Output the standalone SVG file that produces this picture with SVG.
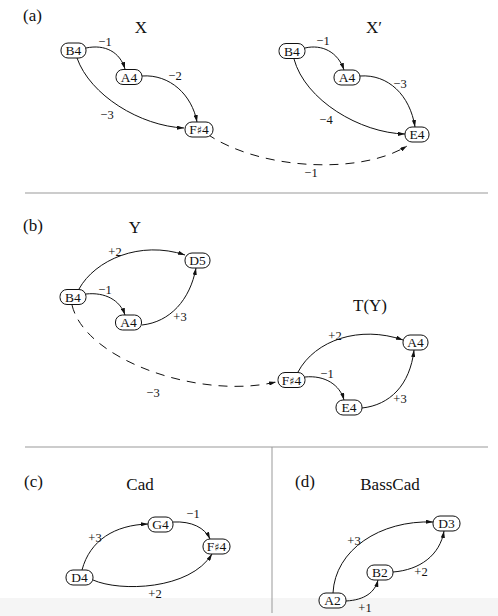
<svg xmlns="http://www.w3.org/2000/svg" width="498" height="616" viewBox="0 0 498 616">
<defs>
<marker id="ah" viewBox="0 0 10 6" refX="10" refY="3" markerWidth="7" markerHeight="4.2" orient="auto" markerUnits="userSpaceOnUse">
<path d="M0,0 L10,3 L0,6 Z" fill="#111"/>
</marker>
<style>
.n rect{fill:#fff;stroke:#111;stroke-width:1}
.n text{font-family:"Liberation Serif",serif;font-size:13.5px;text-anchor:middle;fill:#111}
.s{font-family:"DejaVu Serif","DejaVu Sans",serif;font-size:11px}
.e{fill:none;stroke:#111;stroke-width:1;marker-end:url(#ah)}
.d{stroke-dasharray:9,7}
.l{font-family:"Liberation Serif",serif;font-size:12.5px;text-anchor:middle;fill:#111}
.t{font-family:"Liberation Serif",serif;font-size:17px;text-anchor:middle;fill:#111}
.p{font-family:"Liberation Serif",serif;font-size:17px;fill:#111}
.sep{stroke:#999;stroke-width:1}
</style>
</defs>
<rect x="0" y="0" width="498" height="616" fill="#fff"/>
<rect x="0" y="598" width="498" height="18" fill="#f5f5f5"/>
<g id="separators">
<line class="sep" x1="25" y1="193" x2="488" y2="193"/>
<line class="sep" x1="25" y1="447" x2="488" y2="447"/>
<line class="sep" x1="272" y1="447" x2="272" y2="613"/>
</g>
<g id="titles">
<text class="p" x="23" y="21">(a)</text>
<text class="p" x="23" y="231">(b)</text>
<text class="p" x="24" y="487">(c)</text>
<text class="p" x="295" y="487">(d)</text>
<text class="t" x="141" y="33">X</text>
<text class="t" x="374" y="33">X′</text>
<text class="t" x="135" y="233">Y</text>
<text class="t" x="370" y="311">T(Y)</text>
<text class="t" x="140" y="490">Cad</text>
<text class="t" x="390" y="490">BassCad</text>
</g>
<g id="connectors">
<path class="e" d="M86,48 C105,44 120,52 125,69"/>
<path class="e" d="M142,76 C170,74 192,95 197,122"/>
<path class="e" d="M77,58 C90,95 140,126 184,128"/>
<path class="e" d="M305,48 C322,44 338,52 344,70"/>
<path class="e" d="M360,76 C388,74 410,95 415,127"/>
<path class="e" d="M294,59 C305,100 360,133 405,134"/>
<path class="e d" d="M207,134 C260,170 360,175 407,146"/>
<path class="e" d="M79,289 C95,260 140,240 185,255"/>
<path class="e" d="M86,294 C105,292 120,300 125,315"/>
<path class="e" d="M142,325 C170,322 190,300 196,268"/>
<path class="e d" d="M72,305 C85,360 200,400 276,382"/>
<path class="e" d="M298,372 C315,340 360,325 403,340"/>
<path class="e" d="M305,377 C325,375 340,385 344,400"/>
<path class="e" d="M362,408 C390,405 410,385 414,350"/>
<path class="e" d="M82,570 C90,540 115,525 148,524"/>
<path class="e" d="M173,522 C192,521 205,528 210,539"/>
<path class="e" d="M93,580 C120,592 190,590 212,554"/>
<path class="e" d="M333,593 C335,550 380,520 433,522"/>
<path class="e" d="M346,601 C365,600 375,592 378,580"/>
<path class="e" d="M393,572 C420,570 440,555 444,531"/>
</g>
<g id="labels">
<text class="l" x="105" y="46">−1</text>
<text class="l" x="175" y="80">−2</text>
<text class="l" x="107" y="119">−3</text>
<text class="l" x="323" y="45">−1</text>
<text class="l" x="400" y="88">−3</text>
<text class="l" x="326" y="124">−4</text>
<text class="l" x="311" y="177">−1</text>
<text class="l" x="115" y="256">+2</text>
<text class="l" x="105" y="294">−1</text>
<text class="l" x="180" y="321">+3</text>
<text class="l" x="153" y="397">−3</text>
<text class="l" x="335" y="340">+2</text>
<text class="l" x="327" y="378">−1</text>
<text class="l" x="400" y="403">+3</text>
<text class="l" x="95" y="542">+3</text>
<text class="l" x="193" y="518">−1</text>
<text class="l" x="155" y="598">+2</text>
<text class="l" x="354" y="545">+3</text>
<text class="l" x="421" y="576">+2</text>
<text class="l" x="365" y="612">+1</text>
</g>
<g id="a-X-B4" class="n"><rect x="61" y="43" width="25" height="15" rx="7"/><text x="73.5" y="55">B4</text></g>
<g id="a-X-A4" class="n"><rect x="116" y="69.5" width="26" height="15" rx="7"/><text x="129" y="81.5">A4</text></g>
<g id="a-X-Fs4" class="n"><rect x="185" y="122" width="28" height="15" rx="7"/><text x="199" y="134">F<tspan class="s">♯</tspan>4</text></g>
<g id="a-Xp-B4" class="n"><rect x="279" y="43.5" width="26" height="15" rx="7"/><text x="292" y="55.5">B4</text></g>
<g id="a-Xp-A4" class="n"><rect x="334" y="70" width="26" height="15" rx="7"/><text x="347" y="82">A4</text></g>
<g id="a-Xp-E4" class="n"><rect x="405" y="127" width="24" height="15" rx="7"/><text x="417" y="139">E4</text></g>
<g id="b-Y-D5" class="n"><rect x="185" y="253" width="25" height="15" rx="7"/><text x="197.5" y="265">D5</text></g>
<g id="b-Y-B4" class="n"><rect x="60" y="289.5" width="26" height="15" rx="7"/><text x="73" y="301.5">B4</text></g>
<g id="b-Y-A4" class="n"><rect x="115.5" y="315" width="26" height="15" rx="7"/><text x="128.5" y="327">A4</text></g>
<g id="b-TY-A4" class="n"><rect x="403" y="335" width="25" height="15" rx="7"/><text x="415.5" y="347">A4</text></g>
<g id="b-TY-Fs4" class="n"><rect x="278" y="372.5" width="27" height="15" rx="7"/><text x="291.5" y="384.5">F<tspan class="s">♯</tspan>4</text></g>
<g id="b-TY-E4" class="n"><rect x="336" y="400" width="26" height="15" rx="7"/><text x="349" y="412">E4</text></g>
<g id="c-G4" class="n"><rect x="148" y="517" width="25" height="15" rx="7"/><text x="160.5" y="529">G4</text></g>
<g id="c-Fs4" class="n"><rect x="203" y="539" width="27" height="15" rx="7"/><text x="216.5" y="551">F<tspan class="s">♯</tspan>4</text></g>
<g id="c-D4" class="n"><rect x="66" y="570" width="27" height="15" rx="7"/><text x="79.5" y="582">D4</text></g>
<g id="d-D3" class="n"><rect x="433" y="516" width="27" height="15" rx="7"/><text x="446.5" y="528">D3</text></g>
<g id="d-B2" class="n"><rect x="367" y="565" width="26" height="15" rx="7"/><text x="380" y="577">B2</text></g>
<g id="d-A2" class="n"><rect x="319" y="593" width="27" height="15" rx="7"/><text x="332.5" y="605">A2</text></g>
</svg>
